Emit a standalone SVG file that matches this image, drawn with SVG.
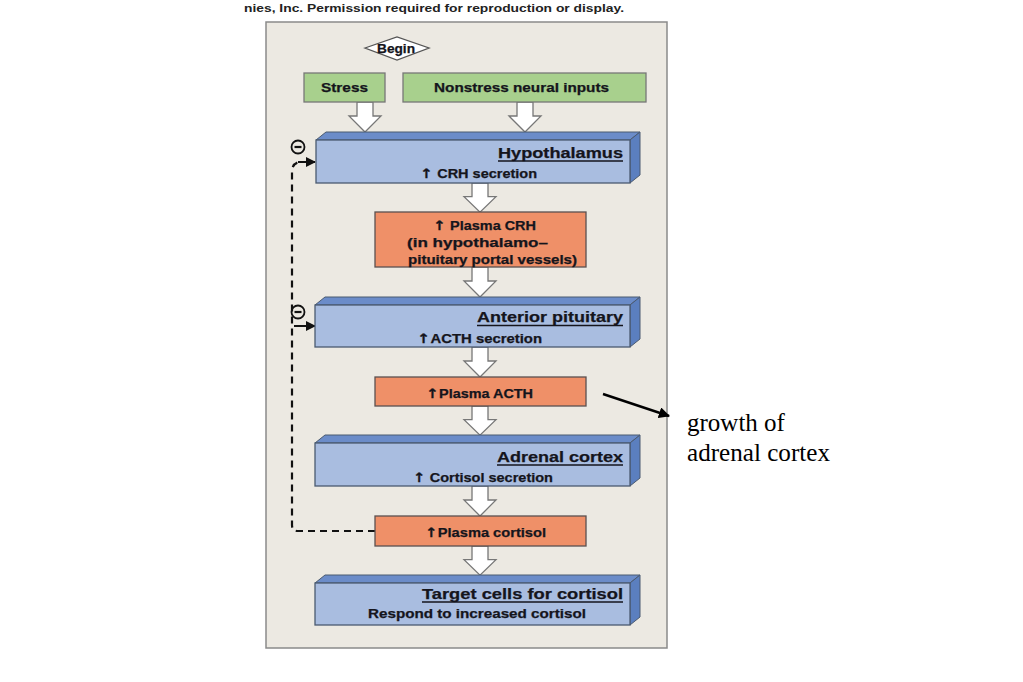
<svg xmlns="http://www.w3.org/2000/svg" xmlns:xlink="http://www.w3.org/1999/xlink" width="1023" height="682" viewBox="0 0 1023 682">
<style>
.t{font-family:"Liberation Sans",Arial,sans-serif;font-weight:bold;fill:#15151c;stroke:#15151c;stroke-width:0.25}
.ar{font-family:"DejaVu Sans",sans-serif;font-weight:bold}
.hdr{font-family:"Liberation Sans",Arial,sans-serif;font-weight:bold;fill:#222;font-size:11.5px}
.note{font-family:"Liberation Serif","Times New Roman",serif;fill:#000;font-size:25px}
.front{fill:#a9bde0;stroke:#4a5a70;stroke-width:1.3}
.top{fill:#6b8cc9;stroke:#4a5a70;stroke-width:1}
.side{fill:#5b7fbf;stroke:#4a5a70;stroke-width:1}
.org{fill:#ef9068;stroke:#5a5050;stroke-width:1.3}
.grn{fill:#a8d08d;stroke:#777;stroke-width:1.3}
.hol{fill:#fff;stroke:#777;stroke-width:1.3}
.ul{stroke:#15151c;stroke-width:1.6}
.dash{fill:none;stroke:#111;stroke-width:2.2;stroke-dasharray:7,5}
.minus{fill:none;stroke:#111;stroke-width:1.8}
</style>
<defs>
<polygon id="harrow" points="-8,0 8,0 8,14 16,14 0,30 -16,14 -8,14"/>
<marker id="ah" viewBox="0 0 10 10" refX="9" refY="5" markerWidth="5" markerHeight="5" orient="auto"><path d="M0,0 L10,5 L0,10 z" fill="#111"/></marker>
<marker id="ah2" viewBox="0 0 10 10" refX="9" refY="5" markerWidth="4.5" markerHeight="4.5" orient="auto"><path d="M0,0 L10,5 L0,10 z" fill="#000"/></marker>
</defs>
<rect width="1023" height="682" fill="#fff"/>
<text class="hdr" x="244" y="12" textLength="380" lengthAdjust="spacingAndGlyphs">nies, Inc. Permission required for reproduction or display.</text>
<rect id="panel" x="266" y="22" width="401" height="626" fill="#ece9e2" stroke="#8a8a8a" stroke-width="1.5"/>

<g id="connectors">
<use xlink:href="#harrow" class="hol" transform="translate(365,102)"/>
<use xlink:href="#harrow" class="hol" transform="translate(525,102)"/>
<use xlink:href="#harrow" class="hol" transform="translate(480,183) scale(1,0.97)"/>
<use xlink:href="#harrow" class="hol" transform="translate(480,267)"/>
<use xlink:href="#harrow" class="hol" transform="translate(480,347)"/>
<use xlink:href="#harrow" class="hol" transform="translate(480,406) scale(1,0.97)"/>
<use xlink:href="#harrow" class="hol" transform="translate(480,486)"/>
<use xlink:href="#harrow" class="hol" transform="translate(480,546) scale(1,0.97)"/>
<path class="dash" d="M375,531 H298 Q292,531 292,525 V172 Q292,163 300,162"/>
<line x1="298" y1="162" x2="315" y2="162" stroke="#111" stroke-width="2" marker-end="url(#ah)"/>
<line x1="294" y1="326" x2="315" y2="326" stroke="#111" stroke-width="2" marker-end="url(#ah)"/>
<circle class="minus" cx="298" cy="147" r="6.5"/>
<line x1="294.5" y1="147" x2="301.5" y2="147" stroke="#111" stroke-width="2.2"/>
<circle class="minus" cx="298" cy="312" r="6.5"/>
<line x1="294.5" y1="312" x2="301.5" y2="312" stroke="#111" stroke-width="2.2"/>
<line x1="603" y1="394" x2="669" y2="416" stroke="#000" stroke-width="2.5" marker-end="url(#ah2)"/>
</g>

<g id="begin">
<polygon points="365,48 397,37 429,48 397,60" fill="#fff" stroke="#555" stroke-width="1.3"/>
<text class="t" x="396" y="52.5" font-size="12" text-anchor="middle" textLength="38" lengthAdjust="spacingAndGlyphs">Begin</text>
</g>
<g id="stress">
<rect class="grn" x="304" y="73" width="81" height="29"/>
<text class="t" x="344.5" y="91.5" font-size="12" text-anchor="middle" textLength="47" lengthAdjust="spacingAndGlyphs">Stress</text>
</g>
<g id="nonstress">
<rect class="grn" x="403" y="73" width="243" height="29"/>
<text class="t" x="521.5" y="91.5" font-size="12" text-anchor="middle" textLength="175" lengthAdjust="spacingAndGlyphs">Nonstress neural inputs</text>
</g>

<g id="hypothalamus">
<polygon class="top" points="316,140 326,132 640,132 630,140"/>
<polygon class="side" points="630,140 640,132 640,175 630,183"/>
<rect class="front" x="316" y="140" width="314" height="43"/>
<text class="t" x="623" y="157.5" font-size="15" text-anchor="end" textLength="125" lengthAdjust="spacingAndGlyphs">Hypothalamus</text>
<line class="ul" x1="498" y1="161" x2="623" y2="161"/>
<text class="t" x="420" y="177.5" font-size="12" textLength="117" lengthAdjust="spacingAndGlyphs"><tspan class="ar" font-size="13">↑</tspan> CRH secretion</text>
</g>

<g id="plasma-crh">
<rect class="org" x="375" y="212" width="211" height="55"/>
<text class="t" x="433" y="230" font-size="12" textLength="103" lengthAdjust="spacingAndGlyphs"><tspan class="ar" font-size="13">↑</tspan> Plasma CRH</text>
<text class="t" x="477.5" y="247" font-size="12" text-anchor="middle" textLength="141" lengthAdjust="spacingAndGlyphs">(in hypothalamo–</text>
<text class="t" x="492.5" y="264" font-size="12" text-anchor="middle" textLength="169" lengthAdjust="spacingAndGlyphs">pituitary portal vessels)</text>
</g>

<g id="anterior-pituitary">
<polygon class="top" points="315,305 325,297 640,297 630,305"/>
<polygon class="side" points="630,305 640,297 640,339 630,347"/>
<rect class="front" x="315" y="305" width="315" height="42"/>
<text class="t" x="623" y="322" font-size="15" text-anchor="end" textLength="146" lengthAdjust="spacingAndGlyphs">Anterior pituitary</text>
<line class="ul" x1="477" y1="325.5" x2="623" y2="325.5"/>
<text class="t" x="417" y="343" font-size="12" textLength="125" lengthAdjust="spacingAndGlyphs"><tspan class="ar" font-size="13">↑</tspan>ACTH secretion</text>
</g>

<g id="plasma-acth">
<rect class="org" x="375" y="377" width="211" height="29"/>
<text class="t" x="426" y="397.5" font-size="12" textLength="107" lengthAdjust="spacingAndGlyphs"><tspan class="ar" font-size="13">↑</tspan>Plasma ACTH</text>
</g>

<g id="adrenal-cortex">
<polygon class="top" points="315,443 325,435 640,435 630,443"/>
<polygon class="side" points="630,443 640,435 640,478 630,486"/>
<rect class="front" x="315" y="443" width="315" height="43"/>
<text class="t" x="623" y="461.5" font-size="15" text-anchor="end" textLength="126" lengthAdjust="spacingAndGlyphs">Adrenal cortex</text>
<line class="ul" x1="497" y1="465" x2="623" y2="465"/>
<text class="t" x="413" y="481.5" font-size="12.5" textLength="140" lengthAdjust="spacingAndGlyphs"><tspan class="ar" font-size="13">↑</tspan> Cortisol secretion</text>
</g>

<g id="plasma-cortisol">
<rect class="org" x="375" y="516" width="211" height="30"/>
<text class="t" x="425" y="537" font-size="12.5" textLength="121" lengthAdjust="spacingAndGlyphs"><tspan class="ar" font-size="13">↑</tspan>Plasma cortisol</text>
</g>

<g id="target-cells">
<polygon class="top" points="315,583 325,575 640,575 630,583"/>
<polygon class="side" points="630,583 640,575 640,617 630,625"/>
<rect class="front" x="315" y="583" width="315" height="42"/>
<text class="t" x="623" y="598.5" font-size="15" text-anchor="end" textLength="201" lengthAdjust="spacingAndGlyphs">Target cells for cortisol</text>
<line class="ul" x1="422" y1="602" x2="623" y2="602"/>
<text class="t" x="477" y="617.5" font-size="12" text-anchor="middle" textLength="218" lengthAdjust="spacingAndGlyphs">Respond to increased cortisol</text>
</g>

<g id="growth-label">
<text class="note" x="687" y="431">growth of</text>
<text class="note" x="687" y="461" textLength="143" lengthAdjust="spacingAndGlyphs">adrenal cortex</text>
</g>
</svg>
